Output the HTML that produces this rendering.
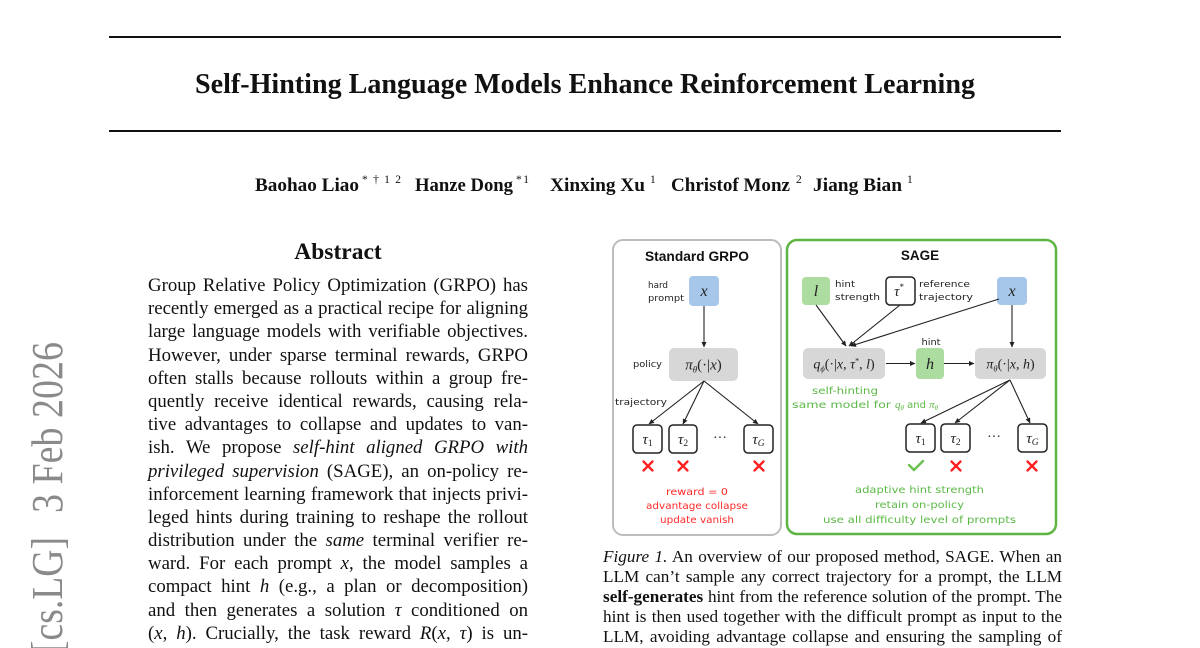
<!DOCTYPE html>
<html>
<head>
<meta charset="utf-8">
<style>
  html,body{margin:0;padding:0;background:#fff;}
  body{width:1200px;height:648px;overflow:hidden;position:relative;font-family:"Liberation Serif",serif;color:#111;}
  .col{position:absolute;left:148px;top:274px;width:380px;font-size:18.8px;line-height:23.2px;}
  .col div,.cap div{text-align:justify;text-align-last:justify;height:23.2px;}
  .cap{position:absolute;left:603px;top:546.6px;width:459px;font-size:17.2px;line-height:20.2px;}
  .cap div{height:20.2px;}
  svg{position:absolute;left:0;top:0;}
</style>
</head>
<body>
<svg width="1200" height="648" viewBox="0 0 1200 648" xmlns="http://www.w3.org/2000/svg">
  <defs>
    <marker id="ah" markerWidth="6" markerHeight="6" refX="5" refY="3" orient="auto" markerUnits="userSpaceOnUse">
      <path d="M0,0.5 L5.5,3 L0,5.5 Z" fill="#222"/>
    </marker>
  </defs>

  <rect x="109" y="36" width="952" height="2" fill="#111"/>
  <rect x="109" y="130" width="952" height="2" fill="#111"/>

  <text x="585" y="93" text-anchor="middle" font-family="Liberation Serif, serif" font-weight="bold" font-size="28" textLength="780" lengthAdjust="spacingAndGlyphs" fill="#111">Self-Hinting Language Models Enhance Reinforcement Learning</text>

  <g font-family="Liberation Serif, serif" fill="#111">
    <text x="255" y="191" font-weight="bold" font-size="19.2" textLength="104" lengthAdjust="spacingAndGlyphs">Baohao Liao</text>
    <text x="362" y="183" font-size="11.5" textLength="39" lengthAdjust="spacing">* † 1 2</text>
    <text x="415" y="191" font-weight="bold" font-size="19.2" textLength="98" lengthAdjust="spacingAndGlyphs">Hanze Dong</text>
    <text x="516" y="183" font-size="11.5" textLength="13" lengthAdjust="spacing">* 1</text>
    <text x="550" y="191" font-weight="bold" font-size="19.2" textLength="95" lengthAdjust="spacingAndGlyphs">Xinxing Xu</text>
    <text x="650" y="183" font-size="11.5">1</text>
    <text x="671" y="191" font-weight="bold" font-size="19.2" textLength="119" lengthAdjust="spacingAndGlyphs">Christof Monz</text>
    <text x="796" y="183" font-size="11.5">2</text>
    <text x="813" y="191" font-weight="bold" font-size="19.2" textLength="89" lengthAdjust="spacingAndGlyphs">Jiang Bian</text>
    <text x="907" y="183" font-size="11.5">1</text>
  </g>

  <text x="338" y="259" text-anchor="middle" font-family="Liberation Serif, serif" font-weight="bold" font-size="23.5" fill="#111">Abstract</text>

  <g font-family="Liberation Serif, serif" fill="#8a8a8a" font-size="44">
    <text transform="translate(62,342) rotate(-90)" text-anchor="end" textLength="171" lengthAdjust="spacingAndGlyphs">3 Feb 2026</text>
    <text transform="translate(62,537) rotate(-90)" text-anchor="end" textLength="116" lengthAdjust="spacingAndGlyphs">[cs.LG]</text>
  </g>

  <!-- Standard GRPO panel -->
  <rect x="613" y="240" width="168" height="295" rx="10" fill="#fff" stroke="#bdbdbd" stroke-width="2"/>
  <text x="697" y="261" text-anchor="middle" font-family="Liberation Sans, sans-serif" font-weight="bold" font-size="13.5" textLength="104" lengthAdjust="spacingAndGlyphs" fill="#111">Standard GRPO</text>

  <g font-family="DejaVu Sans, sans-serif" font-size="9" fill="#222">
    <text x="648" y="288" textLength="20" lengthAdjust="spacingAndGlyphs">hard</text>
    <text x="648" y="301" textLength="36" lengthAdjust="spacingAndGlyphs">prompt</text>
    <text x="633" y="367" textLength="29" lengthAdjust="spacingAndGlyphs">policy</text>
    <text x="615" y="405" textLength="52" lengthAdjust="spacingAndGlyphs">trajectory</text>
  </g>

  <rect x="689" y="276" width="30" height="30" rx="4" fill="#a6c7ea"/>
  <text x="704" y="296" text-anchor="middle" font-family="Liberation Serif, serif" font-style="italic" font-size="16" fill="#222">x</text>

  <line x1="704" y1="306" x2="704" y2="347" stroke="#222" stroke-width="1.1" marker-end="url(#ah)"/>

  <rect x="669" y="348" width="69" height="33" rx="5" fill="#d7d7d7"/>
  <text x="703.5" y="369.5" text-anchor="middle" font-family="Liberation Serif, serif" font-size="15" fill="#222"><tspan font-style="italic">π</tspan><tspan font-size="9" dy="3" font-style="italic">θ</tspan><tspan dy="-3">(·|</tspan><tspan font-style="italic">x</tspan>)</text>

  <line x1="704" y1="381" x2="649" y2="424" stroke="#222" stroke-width="1.1" marker-end="url(#ah)"/>
  <line x1="704" y1="381" x2="683" y2="424" stroke="#222" stroke-width="1.1" marker-end="url(#ah)"/>
  <line x1="704" y1="381" x2="758" y2="424" stroke="#222" stroke-width="1.1" marker-end="url(#ah)"/>

  <g fill="#fff" stroke="#222" stroke-width="1.5">
    <rect x="633" y="425" width="29" height="28" rx="4"/>
    <rect x="669" y="425" width="28" height="28" rx="4"/>
    <rect x="744" y="425" width="29" height="28" rx="4"/>
  </g>
  <g font-family="Liberation Serif, serif" font-size="15" fill="#222">
    <text x="647.5" y="444" text-anchor="middle"><tspan font-style="italic">τ</tspan><tspan font-size="9.5" dy="2">1</tspan></text>
    <text x="683" y="444" text-anchor="middle"><tspan font-style="italic">τ</tspan><tspan font-size="9.5" dy="2">2</tspan></text>
    <text x="758.5" y="444" text-anchor="middle"><tspan font-style="italic">τ</tspan><tspan font-size="9.5" dy="2" font-style="italic">G</tspan></text>
    <text x="720" y="442" text-anchor="middle" font-size="14">···</text>
  </g>

  <g stroke="#ff1f1f" stroke-width="2.3" stroke-linecap="round">
    <path d="M643.5,461.5 L652.5,470.5 M652.5,461.5 L643.5,470.5"/>
    <path d="M678.5,461.5 L687.5,470.5 M687.5,461.5 L678.5,470.5"/>
    <path d="M754.5,461.5 L763.5,470.5 M763.5,461.5 L754.5,470.5"/>
  </g>

  <g font-family="DejaVu Sans, sans-serif" font-size="10" fill="#ff2a2a" text-anchor="middle">
    <text x="697" y="495" textLength="62" lengthAdjust="spacingAndGlyphs">reward = 0</text>
    <text x="697" y="509" textLength="102" lengthAdjust="spacingAndGlyphs">advantage collapse</text>
    <text x="697" y="523" textLength="74" lengthAdjust="spacingAndGlyphs">update vanish</text>
  </g>

  <!-- SAGE panel -->
  <rect x="787" y="240" width="269" height="294" rx="10" fill="#fff" stroke="#5fb543" stroke-width="2.5"/>
  <text x="920" y="260" text-anchor="middle" font-family="Liberation Sans, sans-serif" font-weight="bold" font-size="13.5" fill="#111">SAGE</text>

  <rect x="802" y="277" width="28" height="28" rx="4" fill="#acdca0"/>
  <text x="816" y="296" text-anchor="middle" font-family="Liberation Serif, serif" font-style="italic" font-size="16" fill="#222">l</text>
  <g font-family="DejaVu Sans, sans-serif" font-size="9" fill="#222">
    <text x="835" y="287" textLength="20" lengthAdjust="spacingAndGlyphs">hint</text>
    <text x="835" y="300" textLength="45" lengthAdjust="spacingAndGlyphs">strength</text>
    <text x="919" y="287" textLength="51" lengthAdjust="spacingAndGlyphs">reference</text>
    <text x="919" y="300" textLength="54" lengthAdjust="spacingAndGlyphs">trajectory</text>
    <text x="931" y="345" text-anchor="middle" textLength="19" lengthAdjust="spacingAndGlyphs">hint</text>
  </g>

  <rect x="886" y="277" width="29" height="28" rx="4" fill="#fff" stroke="#222" stroke-width="1.5"/>
  <text x="899" y="296" text-anchor="middle" font-family="Liberation Serif, serif" font-size="15" fill="#222"><tspan font-style="italic">τ</tspan><tspan font-size="9" dy="-6">*</tspan></text>

  <rect x="997" y="277" width="30" height="28" rx="4" fill="#a6c7ea"/>
  <text x="1012" y="296" text-anchor="middle" font-family="Liberation Serif, serif" font-style="italic" font-size="16" fill="#222">x</text>

  <line x1="816" y1="305" x2="846" y2="346" stroke="#222" stroke-width="1.1" marker-end="url(#ah)"/>
  <line x1="900" y1="305" x2="849" y2="346" stroke="#222" stroke-width="1.1" marker-end="url(#ah)"/>
  <line x1="999" y1="299" x2="851" y2="346" stroke="#222" stroke-width="1.1" marker-end="url(#ah)"/>
  <line x1="1012" y1="305" x2="1012" y2="347" stroke="#222" stroke-width="1.1" marker-end="url(#ah)"/>

  <rect x="803" y="348" width="82" height="31" rx="5" fill="#d7d7d7"/>
  <text x="844" y="368.5" text-anchor="middle" font-family="Liberation Serif, serif" font-size="14" fill="#222"><tspan font-style="italic">q</tspan><tspan font-size="8.5" dy="3" font-style="italic">ϕ</tspan><tspan dy="-3">(·|</tspan><tspan font-style="italic">x</tspan>, <tspan font-style="italic">τ</tspan><tspan font-size="8" dy="-5">*</tspan><tspan dy="5">, </tspan><tspan font-style="italic">l</tspan>)</text>

  <line x1="886" y1="363.5" x2="915" y2="363.5" stroke="#222" stroke-width="1.1" marker-end="url(#ah)"/>
  <rect x="916" y="348" width="28" height="31" rx="4" fill="#acdca0"/>
  <text x="930" y="369" text-anchor="middle" font-family="Liberation Serif, serif" font-style="italic" font-size="16" fill="#222">h</text>
  <line x1="944" y1="363.5" x2="974" y2="363.5" stroke="#222" stroke-width="1.1" marker-end="url(#ah)"/>

  <rect x="975" y="348" width="71" height="31" rx="5" fill="#d7d7d7"/>
  <text x="1010.5" y="368.5" text-anchor="middle" font-family="Liberation Serif, serif" font-size="14" fill="#222"><tspan font-style="italic">π</tspan><tspan font-size="8.5" dy="3" font-style="italic">θ</tspan><tspan dy="-3">(·|</tspan><tspan font-style="italic">x</tspan>, <tspan font-style="italic">h</tspan>)</text>

  <g font-family="DejaVu Sans, sans-serif" font-size="10" fill="#5cb847">
    <text x="845" y="394" text-anchor="middle" textLength="66" lengthAdjust="spacingAndGlyphs">self-hinting</text>
    <text x="792" y="408">
      <tspan textLength="103" lengthAdjust="spacingAndGlyphs">same model for </tspan><tspan font-family="Liberation Serif, serif" font-style="italic" font-size="11">q</tspan><tspan font-family="Liberation Serif, serif" font-style="italic" font-size="7" dy="2">θ</tspan><tspan dy="-2"> and </tspan><tspan font-family="Liberation Serif, serif" font-style="italic" font-size="11">π</tspan><tspan font-family="Liberation Serif, serif" font-style="italic" font-size="7" dy="2">θ</tspan>
    </text>
  </g>

  <line x1="1010" y1="380" x2="921" y2="423" stroke="#222" stroke-width="1.1" marker-end="url(#ah)"/>
  <line x1="1010" y1="380" x2="955" y2="423" stroke="#222" stroke-width="1.1" marker-end="url(#ah)"/>
  <line x1="1010" y1="380" x2="1030" y2="423" stroke="#222" stroke-width="1.1" marker-end="url(#ah)"/>

  <g fill="#fff" stroke="#222" stroke-width="1.5">
    <rect x="906" y="424" width="29" height="28" rx="4"/>
    <rect x="941" y="424" width="29" height="28" rx="4"/>
    <rect x="1018" y="424" width="29" height="28" rx="4"/>
  </g>
  <g font-family="Liberation Serif, serif" font-size="15" fill="#222">
    <text x="920.5" y="443" text-anchor="middle"><tspan font-style="italic">τ</tspan><tspan font-size="9.5" dy="2">1</tspan></text>
    <text x="955.5" y="443" text-anchor="middle"><tspan font-style="italic">τ</tspan><tspan font-size="9.5" dy="2">2</tspan></text>
    <text x="1032.5" y="443" text-anchor="middle"><tspan font-style="italic">τ</tspan><tspan font-size="9.5" dy="2" font-style="italic">G</tspan></text>
    <text x="994" y="441" text-anchor="middle" font-size="14">···</text>
  </g>

  <path d="M909,465 L914,470 L923,461" fill="none" stroke="#6cc04f" stroke-width="2.4" stroke-linecap="round" stroke-linejoin="round"/>
  <g stroke="#ff1f1f" stroke-width="2.3" stroke-linecap="round">
    <path d="M951.5,461.5 L960.5,470.5 M960.5,461.5 L951.5,470.5"/>
    <path d="M1027.5,461.5 L1036.5,470.5 M1036.5,461.5 L1027.5,470.5"/>
  </g>

  <g font-family="DejaVu Sans, sans-serif" font-size="10" fill="#5cb847" text-anchor="middle">
    <text x="919.5" y="493" textLength="129" lengthAdjust="spacingAndGlyphs">adaptive hint strength</text>
    <text x="919.5" y="508" textLength="89" lengthAdjust="spacingAndGlyphs">retain on-policy</text>
    <text x="919.5" y="523" textLength="193" lengthAdjust="spacingAndGlyphs">use all difficulty level of prompts</text>
  </g>
</svg>

<div class="col">
  <div>Group Relative Policy Optimization (GRPO) has</div>
  <div>recently emerged as a practical recipe for aligning</div>
  <div>large language models with verifiable objectives.</div>
  <div>However, under sparse terminal rewards, GRPO</div>
  <div>often stalls because rollouts within a group fre-</div>
  <div>quently receive identical rewards, causing rela-</div>
  <div>tive advantages to collapse and updates to van-</div>
  <div>ish. We propose <i>self-hint aligned GRPO with</i></div>
  <div><i>privileged supervision</i> (SAGE), an on-policy re-</div>
  <div>inforcement learning framework that injects privi-</div>
  <div>leged hints during training to reshape the rollout</div>
  <div>distribution under the <i>same</i> terminal verifier re-</div>
  <div>ward. For each prompt <i>x</i>, the model samples a</div>
  <div>compact hint <i>h</i> (e.g., a plan or decomposition)</div>
  <div>and then generates a solution <i>τ</i> conditioned on</div>
  <div>(<i>x</i>, <i>h</i>). Crucially, the task reward <i>R</i>(<i>x</i>, <i>τ</i>) is un-</div>
</div>

<div class="cap">
  <div><i>Figure 1.</i> An overview of our proposed method, SAGE. When an</div>
  <div>LLM can’t sample any correct trajectory for a prompt, the LLM</div>
  <div><b>self-generates</b> hint from the reference solution of the prompt. The</div>
  <div>hint is then used together with the difficult prompt as input to the</div>
  <div>LLM, avoiding advantage collapse and ensuring the sampling of</div>
</div>
</body>
</html>
